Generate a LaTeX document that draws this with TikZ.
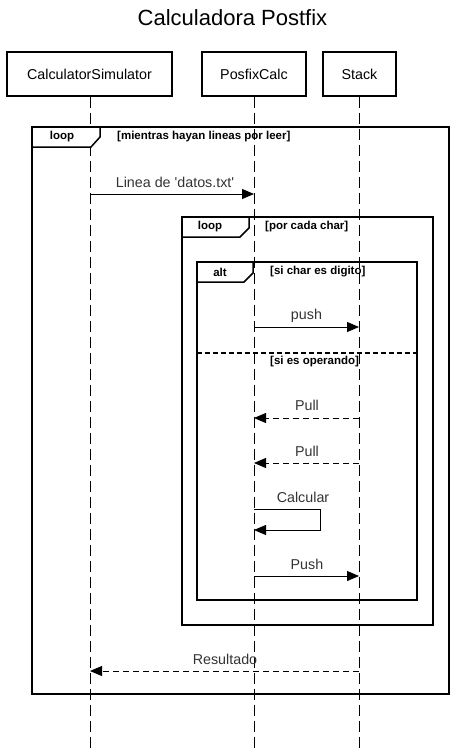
\documentclass[tikz,border=0pt]{standalone}
\usepackage{fontspec}
\setmainfont{Liberation Sans}[Ligatures=TeXOff]
\usetikzlibrary{arrows.meta}
\begin{document}
\begin{tikzpicture}[x=1pt,y=-1pt,
  actor/.style={draw,line width=1.5pt,minimum height=44pt,inner sep=0pt,font=\fontsize{14.3}{16}\selectfont},
  lifeline/.style={line width=0.9pt,dash pattern=on 11pt off 5pt},
  frame/.style={draw,line width=1.5pt},
  tab/.style={line width=1.5pt,fill=white},
  tablabel/.style={font=\bfseries\fontsize{11.5}{13}\selectfont,inner sep=0pt},
  guard/.style={font=\bfseries\fontsize{11.5}{13}\selectfont,inner sep=0pt,anchor=west,inner xsep=1pt},
  msg/.style={line width=0.8pt,-{Triangle[length=12pt,width=10pt]}},
  ret/.style={msg,dash pattern=on 6pt off 4pt},
  mlabel/.style={font=\fontsize{14.3}{16}\selectfont,text=black!80,inner sep=0pt}
]
\useasboundingbox (0,0) rectangle (465,752);
\node[font=\fontsize{22}{26}\selectfont] (title) at (232.5,18) {Calculadora Postfix};
% actors
\node[actor,minimum width=165pt] (cs) at (89.5,74) {CalculatorSimulator};
\node[actor,minimum width=104pt] (pc) at (254,74) {PosfixCalc};
\node[actor,minimum width=73pt] (st) at (359.5,74) {Stack};
\coordinate (csb) at (90,752);
\coordinate (pcb) at (254,752);
\coordinate (stb) at (359,752);
\draw[lifeline] (cs.south -| csb) -- (csb);
\draw[lifeline] (pc.south -| pcb) -- (pcb);
\draw[lifeline] (st.south -| stb) -- (stb);
% outer loop
\draw[frame] (32,127) rectangle (449,694);
\draw[tab] (32,127) -- (100,127) -- (100,137) -- (91,147) -- (32,147) -- cycle;
\node[tablabel] (l1) at (62,137) {loop};
\node[guard] (g1) at (116,137) {[mientras hayan lineas por leer]};
% inner loop
\draw[frame] (182,217) rectangle (433,625);
\draw[tab] (182,217) -- (249,217) -- (249,228) -- (240,237) -- (182,237) -- cycle;
\node[tablabel] (l2) at (210,227) {loop};
\node[guard] (g2) at (264,227) {[por cada char]};
% alt
\draw[frame] (197,262) rectangle (417,600);
\draw[tab] (197,262) -- (253,262) -- (253,273) -- (244,282) -- (197,282) -- cycle;
\node[tablabel] (l3) at (220,272) {alt};
\node[guard] (g3) at (269,272) {[si char es digito]};
\draw[line width=1.2pt,dash pattern=on 5pt off 3pt] (197,353) -- (417,353);
\node[guard] (g4) at (269,362) {[si es operando]};
% message coordinates
\coordinate (m1a) at (90,194);  \coordinate (m1b) at (254,194);
\coordinate (m2a) at (254,327); \coordinate (m2b) at (359,327);
\coordinate (m3a) at (359,418); \coordinate (m3b) at (254,418);
\coordinate (m4a) at (359,463); \coordinate (m4b) at (254,463);
\coordinate (m5a) at (254,509); \coordinate (m5c) at (320,509);
\coordinate (m5d) at (320,530); \coordinate (m5b) at (254,530);
\coordinate (m6a) at (254,576); \coordinate (m6b) at (359,576);
\coordinate (m7a) at (359,671); \coordinate (m7b) at (90,671);
\draw[msg] (m1a) -- (m1b);
\node[mlabel] (t1) at (175,182) {Linea de 'datos.txt'};
\draw[msg] (m2a) -- (m2b);
\node[mlabel] (t2) at (306.5,316) {push};
\draw[ret] (m3a) -- (m3b);
\node[mlabel] (t3) at (307,405) {Pull};
\draw[ret] (m4a) -- (m4b);
\node[mlabel] (t4) at (307,451) {Pull};
\draw[msg] (m5a) -- (m5c) -- (m5d) -- (m5b);
\node[mlabel] (t5) at (303,497) {Calcular};
\draw[msg] (m6a) -- (m6b);
\node[mlabel] (t6) at (307,564) {Push};
\draw[ret] (m7a) -- (m7b);
\node[mlabel] (t7) at (225,659) {Resultado};
\end{tikzpicture}
\end{document}
